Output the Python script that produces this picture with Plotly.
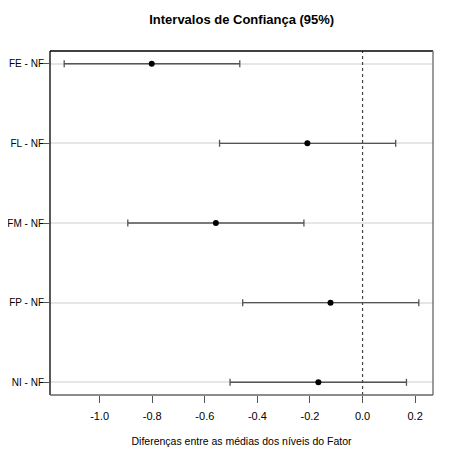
import plotly.graph_objects as go

comparacoes = ["FE - NF", "FL - NF", "FM - NF", "FP - NF", "NI - NF"]
diferenca = [-0.802, -0.210, -0.558, -0.122, -0.168]
lim_inf = [-1.135, -0.544, -0.893, -0.456, -0.504]
lim_sup = [-0.467, 0.126, -0.223, 0.214, 0.167]
xticks = [-1.0, -0.8, -0.6, -0.4, -0.2, 0.0, 0.2]

pos = list(range(1, len(comparacoes) + 1))
err_plus = [s - d for s, d in zip(lim_sup, diferenca)]
err_minus = [d - i for d, i in zip(diferenca, lim_inf)]

# faixa do eixo x como no R (extensao de 4%)
lo, hi = min(lim_inf), max(lim_sup)
ext = 0.04 * (hi - lo)
xr = [lo - ext, hi + ext]

fig = go.Figure()
fig.add_trace(go.Scatter(
    x=diferenca, y=pos, mode="markers",
    marker=dict(color="black", size=6),
    error_x=dict(type="data", symmetric=False, array=err_plus, arrayminus=err_minus,
                 color="#555555", thickness=1.3, width=3.5),
    showlegend=False, hoverinfo="skip"))

# linha pontilhada no zero
fig.add_shape(type="line", xref="x", yref="paper", x0=0, x1=0, y0=0, y1=1,
              line=dict(color="#444444", width=1.2, dash="dot"))
# caixa do grafico
fig.add_shape(type="line", xref="paper", yref="paper", x0=0, x1=0, y0=0, y1=1,
              line=dict(color="black", width=1.3))
fig.add_shape(type="line", xref="paper", yref="paper", x0=0, x1=1, y0=1, y1=1,
              line=dict(color="black", width=1.3))
fig.add_shape(type="line", xref="paper", yref="paper", x0=1, x1=1, y0=0, y1=1,
              line=dict(color="#666666", width=1.3))
fig.add_shape(type="line", xref="paper", yref="paper", x0=0, x1=1, y0=0, y1=0,
              line=dict(color="#666666", width=1.3))

# a pagina tem margem de 8px, entao a figura e um pouco menor
W, H = 445, 451
fig.update_layout(
    width=W, height=H,
    margin=dict(l=42, r=20, t=43, b=64, autoexpand=False),
    paper_bgcolor="white", plot_bgcolor="white",
    font=dict(family="Liberation Sans, Arial", size=11, color="black"),
    title=dict(text="<b>Intervalos de Confiança (95%)</b>", x=(241.7 - 8) / W, xanchor="center",
               y=1 - 11.5 / H, yanchor="middle", yref="container", automargin=False,
               font=dict(size=13, color="black")),
    xaxis=dict(range=xr, tickvals=xticks, ticktext=["%.1f" % v for v in xticks],
               ticks="outside", ticklen=7, tickcolor="#555555", showgrid=False,
               zeroline=False, showline=False, automargin=False, ticklabelstandoff=4,
               title=dict(text="Diferenças entre as médias dos níveis do Fator",
                          font=dict(size=10.5), standoff=16)),
    yaxis=dict(range=[len(pos) + 0.16, 1 - 0.16], tickvals=pos, ticktext=comparacoes,
               ticks="outside", ticklen=5, tickcolor="#555555", automargin=False,
               showgrid=True, gridcolor="#e6e6e6", gridwidth=2, ticklabelstandoff=-2,
               zeroline=False, showline=False, tickfont=dict(size=10)),
)

fig.write_html("out.html")
